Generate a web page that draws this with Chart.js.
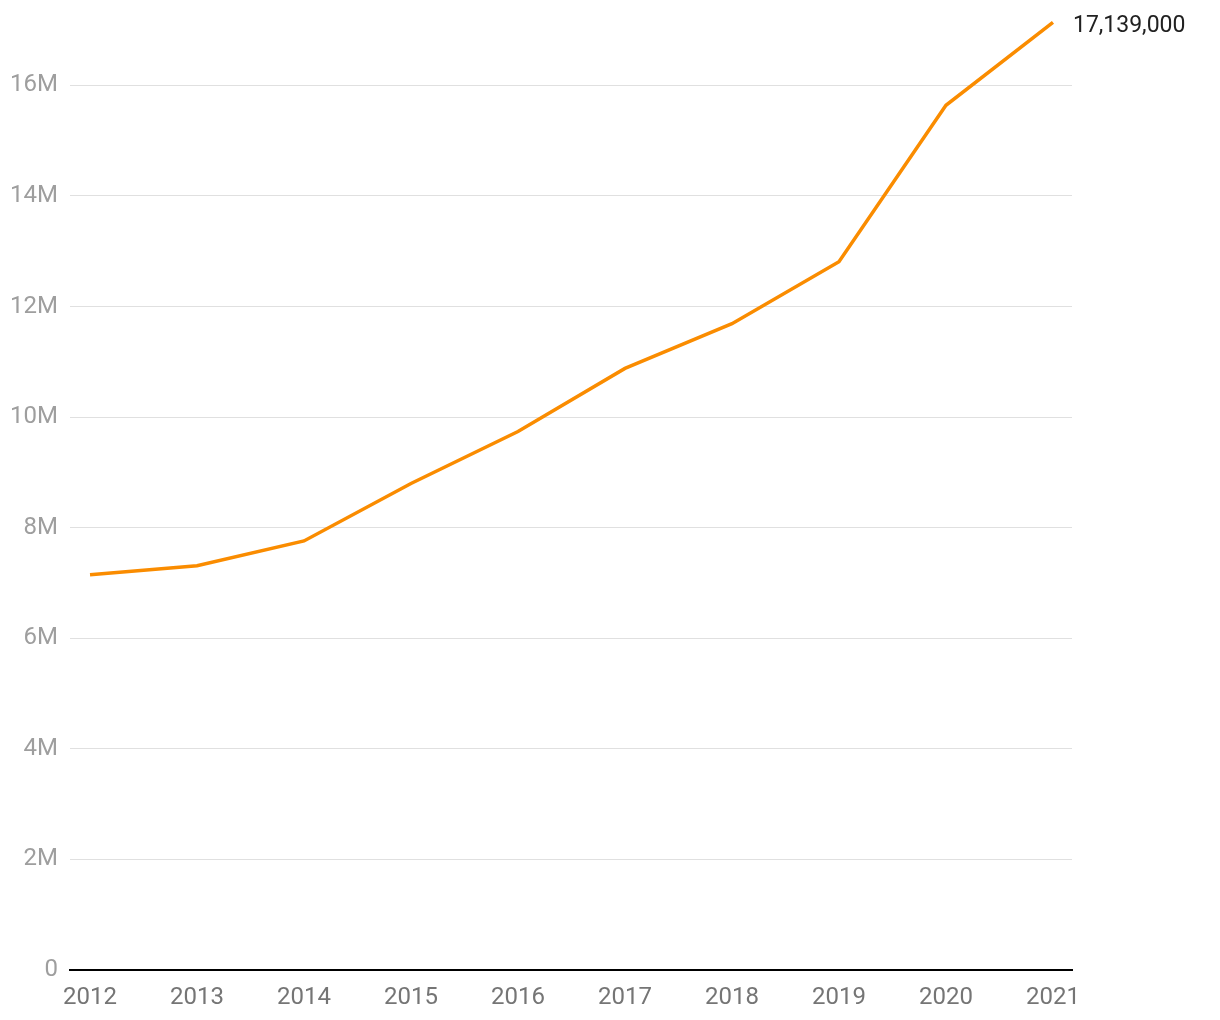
<!DOCTYPE html>
<html>
<head>
<meta charset="utf-8">
<script src="https://cdn.jsdelivr.net/npm/chart.js@4/dist/chart.umd.min.js"></script>
<style>
  html, body { margin: 0; padding: 0; background: #fff; }
  #wrap { width: 1220px; height: 1020px; position: relative; }
</style>
</head>
<body>
<div id="wrap"><canvas id="grafica"></canvas></div>
<script>
// datos
const years = [2012, 2013, 2014, 2015, 2016, 2017, 2018, 2019, 2020, 2021];
const values = [7150000, 7310000, 7760000, 8800000, 9740000, 10880000, 11690000, 12810000, 15640000, 17139000];
const yTicks = [0, 2000000, 4000000, 6000000, 8000000, 10000000, 12000000, 14000000, 16000000];
const yTickLabels = ['0', '2M', '4M', '6M', '8M', '10M', '12M', '14M', '16M'];

(function() {
    const ctx = document.getElementById('grafica');

    // etiqueta con el último valor al final de la línea
    const endLabel = {
        id: 'endLabel',
        afterDatasetsDraw(chart) {
            const meta = chart.getDatasetMeta(0);
            const last = meta.data[meta.data.length - 1];
            const c = chart.ctx;
            c.save();
            c.font = '23px Roboto';
            c.fillStyle = '#212121';
            c.textAlign = 'left';
            c.textBaseline = 'middle';
            c.fillText(values[values.length - 1].toLocaleString('en-US'), last.x + 20, last.y + 4);
            c.restore();
        }
    };

    new Chart(ctx, {
        type: 'line',
        data: {
            datasets: [{
                data: years.map((y, i) => ({ x: y, y: values[i] })),
                borderColor: '#fa8c00',
                borderWidth: 3.5,
                pointRadius: 0,
                tension: 0
            }]
        },
        options: {
            responsive: true,
            maintainAspectRatio: false,
            animation: false,
            layout: { padding: { top: 19, right: 148, left: 0, bottom: 0 } },
            plugins: {
                legend: { display: false },
                tooltip: { enabled: false }
            },
            scales: {
                x: {
                    type: 'linear',
                    min: 2011.813,
                    max: 2021.178,
                    afterBuildTicks: (scale) => { scale.ticks = years.map(v => ({ value: v })); },
                    afterFit: (scale) => { scale.height = 50; scale.paddingLeft = 0; scale.paddingRight = 0; },
                    grid: { display: false, drawTicks: false },
                    border: { display: true, color: '#000', width: 2 },
                    ticks: {
                        color: '#757575',
                        font: { family: 'Roboto', size: 24 },
                        padding: 14,
                        maxRotation: 0,
                        callback: (v) => String(v)
                    }
                },
                y: {
                    min: 0,
                    max: 17200000,
                    afterBuildTicks: (scale) => { scale.ticks = yTicks.map(v => ({ value: v })); },
                    afterFit: (scale) => { scale.width = 70; scale.paddingTop = 0; scale.paddingBottom = 0; },
                    grid: { color: '#e0e0e0', lineWidth: 1, drawTicks: false },
                    border: { display: false },
                    ticks: {
                        color: '#9e9e9e',
                        font: { family: 'Roboto', size: 24 },
                        padding: 12,
                        callback: (v) => yTickLabels[yTicks.indexOf(v)]
                    }
                }
            }
        },
        plugins: [endLabel]
    });
})();
</script>
</body>
</html>
